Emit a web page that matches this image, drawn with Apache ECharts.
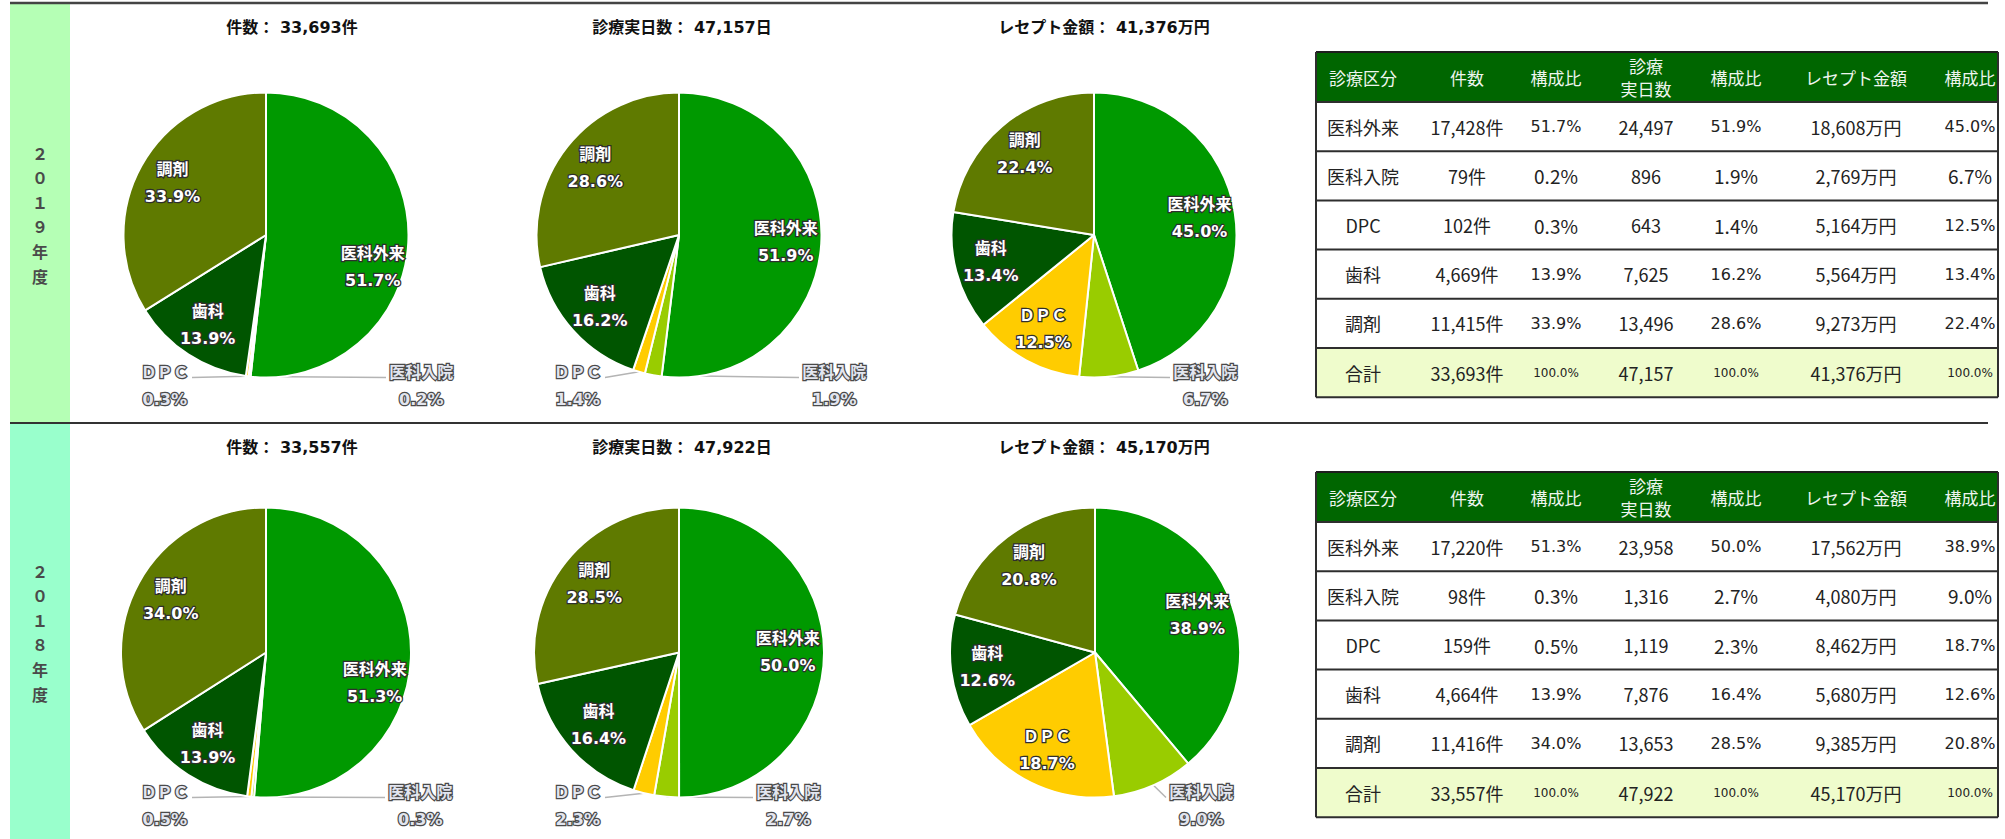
<!DOCTYPE html>
<html lang="ja">
<head>
<meta charset="utf-8">
<title>診療区分別 件数・診療実日数・レセプト金額</title>
<script src="https://cdn.jsdelivr.net/npm/echarts@6.0.0/dist/echarts.min.js"></script>
<style>
  html, body { margin: 0; padding: 0; background: #ffffff; }
  #chart { width: 2005px; height: 839px; }
</style>
</head>
<body>
<div id="chart"></div>
<script>
// 診療区分
const categories = ['医科外来', '医科入院', 'DPC', '歯科', '調剤'];
const pieNames = ['医科外来', '医科入院', 'ＤＰＣ', '歯科', '調剤'];
const totalLabel = '合計';
const yearLabels = ['２０１９年度', '２０１８年度'];

// 2019年度
const cases2019 = [17428, 79, 102, 4669, 11415];
const days2019 = [24497, 896, 643, 7625, 13496];
const amount2019 = [18608, 2769, 5164, 5564, 9273];
const totals2019 = [33693, 47157, 41376];

// 2018年度
const cases2018 = [17220, 98, 159, 4664, 11416];
const days2018 = [23958, 1316, 1119, 7876, 13653];
const amount2018 = [17562, 4080, 8462, 5680, 9385];
const totals2018 = [33557, 47922, 45170];

// 指標名と単位
const measureNames = ['件数', '診療実日数', 'レセプト金額'];
const titleUnits = ['件', '日', '万円'];
const tableUnits = ['件', '', '万円'];
const tableHeaders = ['診療区分', '件数', '構成比', '診療\n実日数', '構成比', 'レセプト金額', '構成比'];

// ---- styles & layout ----
const sliceColors = ['#009900', '#99cc00', '#ffcc00', '#005500', '#5f7a00'];
const FONT = '"DejaVu Sans", "Noto Sans CJK JP", sans-serif';
const JP = '"Noto Sans CJK JP", sans-serif';
// side of the small-slice labels: -1 = left of the pie bottom, +1 = right
const outsideSide = [1, 1, -1, -1, -1];

const years = [
  {
    label: yearLabels[0], series: [cases2019, days2019, amount2019], totals: totals2019,
    top: 3, height: 420, strip: '#b5ffb5', titleY: 27, tableTop: 52,
    pies: [
      { center: [266, 235], radius: 142.5, gapL: 76, gapR: 122, nudge: [0, 26] },
      { center: [679, 235], radius: 142.5, gapL: 76, gapR: 122 },
      { center: [1094, 235], radius: 142.5, gapL: 76, gapR: 78 }
    ]
  },
  {
    label: yearLabels[1], series: [cases2018, days2018, amount2018], totals: totals2018,
    top: 423, height: 416, strip: '#99ffcc', titleY: 447, tableTop: 472,
    pies: [
      { center: [266, 652.5], radius: 145, gapL: 76, gapR: 121, nudge: [0, 26] },
      { center: [679, 652.5], radius: 145, gapL: 76, gapR: 76 },
      { center: [1095, 652.5], radius: 145, gapL: 76, gapR: 73 }
    ]
  }
];
const titleX = [292, 682, 1104];
const tableBox = { left: 1316, right: 1998, headerH: 50, rowH: 49.2 };
const tableCols = [1363, 1467, 1556, 1646, 1736, 1856, 1970];

function fmt(n) { return String(n).replace(/\B(?=(\d{3})+(?!\d))/g, ','); }
function pct(v, total) { return (v / total * 100).toFixed(1) + '%'; }
function isSmall(v, total) { return v / total * 100 < 10; }

const insideLabel = {
  show: true, position: 'inside', color: '#ffffff',
  fontFamily: FONT, fontSize: 16, fontWeight: 'bold', lineHeight: 27,
  textBorderColor: '#2e2e2e', textBorderWidth: 2.5
};
const outsideLabel = {
  show: true, position: 'outside', color: '#e2e5ef',
  fontFamily: FONT, fontSize: 16, fontWeight: 'bold', lineHeight: 27,
  textBorderColor: '#4a4a4a', textBorderWidth: 2.5
};

// label placement: inside labels sit at ~72% of the radius,
// small-slice labels sit beside the bottom of the pie with a leader line
function placeLabel(p, lay, values, total) {
  const cx = lay.center[0], cy = lay.center[1], r = lay.radius;
  const i = p.dataIndex;
  const rect = p.labelRect;
  if (!isSmall(values[i], total)) {
    const vx = rect.x + rect.width / 2 - cx;
    const vy = rect.y + rect.height / 2 - cy;
    const n = (i === 0 && lay.nudge) ? lay.nudge : [0, 0];
    return { dx: vx * 0.44 + n[0], dy: vy * 0.44 + n[1] };
  }
  const side = outsideSide[i];
  const bottom = cy + r;
  const edge = p.labelLinePoints ? p.labelLinePoints[0] : [cx, bottom];
  const anchorX = side < 0 ? cx - lay.gapL : cx + lay.gapR;
  const lineEnd = anchorX - side * 2;
  return {
    x: anchorX + side * rect.width / 2,
    y: bottom - 18.5,
    align: 'center',
    verticalAlign: 'top',
    labelLinePoints: [edge, [lineEnd, bottom], [lineEnd, bottom]]
  };
}

function pieSeries(values, total, lay) {
  return {
    type: 'pie',
    center: lay.center,
    radius: lay.radius,
    startAngle: 90,
    clockwise: true,
    avoidLabelOverlap: false,
    animation: false,
    silent: true,
    emphasis: { disabled: true },
    itemStyle: { borderColor: '#ffffff', borderWidth: 2 },
    label: { formatter: function (p) { return p.name + '\n' + pct(p.value, total); } },
    labelLine: { show: false },
    data: values.map(function (v, i) {
      const small = isSmall(v, total);
      return {
        name: pieNames[i],
        value: v,
        itemStyle: { color: sliceColors[i] },
        label: small ? outsideLabel : insideLabel,
        labelLine: {
          show: small, length: 8, length2: 8, smooth: false,
          lineStyle: { color: '#b4b4b4', width: 1.5 }
        }
      };
    }),
    labelLayout: function (p) { return placeLabel(p, lay, values, total); }
  };
}

function text(x, y, str, st) {
  return {
    type: 'text', x: x, y: y, silent: true, z: 10,
    style: Object.assign({
      text: str, fill: '#222222', fontFamily: JP, fontSize: 18,
      align: 'center', verticalAlign: 'middle',
      textAlign: 'center', textVerticalAlign: 'middle'
    }, st || {})
  };
}
function rect(x, y, w, h, fill) {
  return { type: 'rect', silent: true, z: 1, shape: { x: x, y: y, width: w, height: h }, style: { fill: fill } };
}
function line(x1, y1, x2, y2, color, width) {
  return { type: 'line', silent: true, z: 5, shape: { x1: x1, y1: y1, x2: x2, y2: y2 }, style: { stroke: color, lineWidth: width } };
}

function cellStyle(str) {
  if (/%$/.test(str)) {
    if (str.length >= 6) return { fontSize: 12, fontFamily: FONT };
    if (str.length === 5) return { fontSize: 16, fontFamily: FONT };
    return { fontSize: 19, fontFamily: JP };
  }
  return { fontSize: 18, fontFamily: JP };
}

function buildTable(year) {
  const els = [];
  const L = tableBox.left, R = tableBox.right, T = year.tableTop;
  const hH = tableBox.headerH, rH = tableBox.rowH;
  const nRows = categories.length + 1;
  const B = T + hH + nRows * rH;
  els.push(rect(L, T, R - L, hH, '#006600'));
  els.push(rect(L, T + hH + categories.length * rH, R - L, rH, '#effccc'));
  tableHeaders.forEach(function (h, c) {
    els.push(text(tableCols[c], T + hH / 2, h, { fill: '#eef5ee', fontSize: 17, lineHeight: 23 }));
  });
  const [cs, ds, as] = year.series;
  const [tc, td, ta] = year.totals;
  const rows = categories.map(function (name, i) {
    return [name, fmt(cs[i]) + tableUnits[0], pct(cs[i], tc), fmt(ds[i]) + tableUnits[1], pct(ds[i], td),
            fmt(as[i]) + tableUnits[2], pct(as[i], ta)];
  });
  rows.push([totalLabel, fmt(tc) + tableUnits[0], pct(tc, tc), fmt(td) + tableUnits[1], pct(td, td),
             fmt(ta) + tableUnits[2], pct(ta, ta)]);
  rows.forEach(function (row, r) {
    const cy = T + hH + (r + 0.5) * rH;
    row.forEach(function (cell, c) {
      els.push(text(tableCols[c], cy, cell, cellStyle(cell)));
    });
  });
  els.push(line(L, T, R, T, '#1e1e1e', 2));
  for (let r = 0; r <= nRows; r++) {
    const y = T + hH + r * rH;
    els.push(line(L, y, R, y, '#2e2e2e', 2));
  }
  els.push(line(L, T, L, B, '#2e2e2e', 2));
  els.push(line(R, T, R, B, '#2e2e2e', 2));
  return els;
}

const series = [];
const graphics = [];
years.forEach(function (year) {
  graphics.push(rect(10, year.top, 60, year.height, year.strip));
  graphics.push(text(40, year.top + year.height / 2 + 1, year.label.split('').join('\n'),
    { fontSize: 16, fontWeight: 'bold', fill: '#4a4a4a', lineHeight: 24.6 }));
  year.series.forEach(function (values, k) {
    const total = year.totals[k];
    series.push(pieSeries(values, total, year.pies[k]));
    graphics.push(text(titleX[k], year.titleY,
      measureNames[k] + '： ' + fmt(total) + titleUnits[k],
      { fontFamily: FONT, fontSize: 16, fontWeight: 'bold', fill: '#111111' }));
  });
  buildTable(year).forEach(function (e) { graphics.push(e); });
});
graphics.push(line(10, 3, 1988, 3, '#444444', 2.5));
graphics.push(line(10, 423, 1988, 423, '#333333', 2));

const chart = echarts.init(document.getElementById('chart'), null, { renderer: 'svg', width: 2005, height: 839 });
chart.setOption({
  animation: false,
  backgroundColor: '#ffffff',
  graphic: { elements: graphics },
  series: series
});
</script>
</body>
</html>
